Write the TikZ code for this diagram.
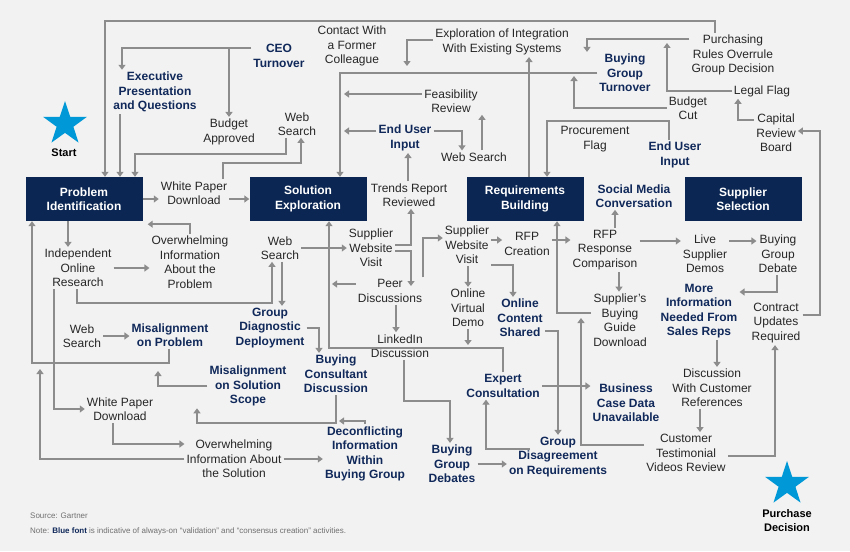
\documentclass[tikz,border=0pt]{standalone}
\usepackage{fontspec}
\setmainfont{Liberation Sans}
\usetikzlibrary{arrows.meta,shapes.geometric}
\definecolor{bgc}{HTML}{F2F2F2}
\definecolor{navy}{HTML}{0B2652}
\definecolor{bluet}{HTML}{10295A}
\definecolor{arrc}{HTML}{8C8C8C}
\definecolor{starb}{HTML}{0098D6}
\definecolor{srcg}{HTML}{707070}
\tikzset{
  txt/.style={align=center,inner sep=2pt,font=\fontsize{12}{14.5}\selectfont,text=black!85},
  bl/.style={txt,font=\fontsize{12}{14.5}\selectfont\bfseries,text=bluet},
  box/.style={fill=navy,text=white,align=center,minimum width=117pt,minimum height=44pt,inner sep=0pt,font=\fontsize{12}{14.5}\selectfont\bfseries},
  arr/.style={draw=arrc,line width=1.6pt,-{Triangle[width=7pt,length=5pt]}},
  ln/.style={draw=arrc,line width=1.6pt},
  starshape/.style={star,star points=5,star point ratio=2.6,fill=starb,minimum size=46pt,inner sep=0pt}
}
\begin{document}
\begin{tikzpicture}[x=1pt,y=-1pt]
\fill[bgc] (0,0) rectangle (850,551);
\useasboundingbox (0,0) rectangle (850,551);
% boxes
\node[box] (pi) at (84,199) {Problem\\Identification};
\node[box] (se) at (308,199) {Solution\\Exploration};
\node[box] (rb) at (525,199) {Requirements\\Building};
\node[box] (ss) at (743,199) {Supplier\\Selection};
% stars
\node[starshape] (st1) at (65,124) {};
\node[font=\fontsize{11}{13}\selectfont\bfseries] (stt) at (64,153) {Start};
\node[starshape] (st2) at (787,484) {};
\node[align=center,font=\fontsize{11}{14}\selectfont\bfseries] (pdt) at (787,521) {Purchase\\Decision};
% text nodes
\node[txt] (cwc) at (352,46) {Contact With\\a Former\\Colleague};
\node[txt] (eie) at (502,42) {Exploration of Integration\\With Existing Systems};
\node[txt] (pro) at (733,55) {Purchasing\\Rules Overrule\\Group Decision};
\node[bl] (ceo) at (279,56) {CEO\\Turnover};
\node[bl] (epq) at (155,92) {Executive\\Presentation\\and Questions};
\node[txt] (ba) at (229,132) {Budget\\Approved};
\node[txt] (ws1) at (297,124) {Web\\Search};
\node[bl] (bgt) at (625,73) {Buying\\Group\\Turnover};
\node[txt] (fr) at (451,101) {Feasibility\\Review};
\node[bl] (eu1) at (405,138) {End User\\Input};
\node[txt] (ws2) at (474,157) {Web Search};
\node[txt] (bc) at (688,108) {Budget\\Cut};
\node[txt] (lf) at (762,91) {Legal Flag};
\node[txt] (crb) at (776,133) {Capital\\Review\\Board};
\node[txt] (pf) at (595,139) {Procurement\\Flag};
\node[bl] (eu2) at (675,155) {End User\\Input};
\node[txt] (trr) at (409,195) {Trends Report\\Reviewed};
\node[bl] (smc) at (634,196) {Social Media\\Conversation};
\node[txt] (wp1) at (194,193) {White Paper\\Download};
\node[txt] (ior) at (78,268) {Independent\\Online\\Research};
\node[txt] (oip) at (190,262) {Overwhelming\\Information\\About the\\Problem};
\node[txt] (ws3) at (280,248) {Web\\Search};
\node[txt] (swv1) at (371,248) {Supplier\\Website\\Visit};
\node[txt] (swv2) at (467,245) {Supplier\\Website\\Visit};
\node[txt] (rfpc) at (527,244) {RFP\\Creation};
\node[txt] (rfpr) at (605,250) {RFP\\Response\\Comparison};
\node[txt] (lsd) at (705,254) {Live\\Supplier\\Demos};
\node[txt] (bgd) at (778,254) {Buying\\Group\\Debate};
\node[txt] (pd) at (390,291) {Peer\\Discussions};
\node[txt] (ovd) at (468,308) {Online\\Virtual\\Demo};
\node[bl] (ocs) at (520,318) {Online\\Content\\Shared};
\node[txt] (sbg) at (620,320) {Supplier's\\Buying\\Guide\\Download};
\node[bl] (mi) at (699,311) {More\\Information\\Needed From\\Sales Reps};
\node[txt] (cur) at (776,323) {Contract\\Updates\\Required};
\node[txt] (ld) at (400,346) {LinkedIn\\Discussion};
\node[bl] (gdd) at (270,328) {Group\\Diagnostic\\Deployment};
\node[txt] (ws4) at (82,336) {Web\\Search};
\node[bl] (mp) at (170,335) {Misalignment\\on Problem};
\node[bl] (mss) at (248,386) {Misalignment\\on Solution\\Scope};
\node[bl] (bcd) at (336,374) {Buying\\Consultant\\Discussion};
\node[bl] (ec) at (503,386) {Expert\\Consultation};
\node[bl] (bcdu) at (626,403) {Business\\Case Data\\Unavailable};
\node[txt] (dcr) at (712,388) {Discussion\\With Customer\\References};
\node[txt] (wp2) at (120,409) {White Paper\\Download};
\node[txt] (ois) at (234,459) {Overwhelming\\Information About\\the Solution};
\node[bl] (dib) at (365,454) {Deconflicting\\Information\\Within\\Buying Group};
\node[bl] (bgds) at (452,464) {Buying\\Group\\Debates};
\node[bl] (gdr) at (558,457) {Group\\Disagreement\\on Requirements};
\node[txt] (ctv) at (686,453) {Customer\\Testimonial\\Videos Review};
% footnote
\node[anchor=west,inner sep=0pt,font=\fontsize{8}{10}\selectfont,text=srcg] (src) at (30,516) {Source: Gartner};
\node[anchor=west,inner sep=0pt,font=\fontsize{8}{10}\selectfont,text=srcg] (note) at (30,531) {Note: {\bfseries\color{bluet}Blue font} is indicative of always-on “validation” and “consensus creation” activities.};
% connectors
\draw[arr] ([xshift=-18]pro.north) |- (105,21) -- (105,0 |- pi.north);
\draw[arr] ([yshift=8]ceo.west) -| (122,0 |- epq.north);
\draw[arr] (229,48) -- (ba.north);
\draw[arr] (120,0 |- epq.south) -- (120,0 |- pi.north);
\draw[arr] ([xshift=-11]ws1.south) |- (135,154) -- (135,0 |- pi.north);
\draw[arr] ([xshift=29]wp1.north) |- (301,163) -- ([xshift=4]ws1.south);
\draw[arr] (pi.east) -- (pi.east -| wp1.west);
\draw[arr] (wp1.east |- se) -- (se.west);
\draw[arr] (oip.north) |- ([xshift=5,yshift=-3]pi.south east);
\draw[arr] (68,0 |- pi.south) -- (68,0 |- ior.north);
\draw[arr] (ior.east) -- (ior.east -| oip.west);
\draw[arr] (77,0 |- ior.south) |- (272,303) -- (272,0 |- ws3.south);
\draw[arr] (282,0 |- ws3.south) -- (282,0 |- gdd.north);
\draw[arr] (ws3.east) -- (ws3.east -| swv1.west);
\draw[arr] (169,0 |- mp.south) |- (32,363) -- (32,0 |- pi.south);
\draw[arr] (ois.west) -| (40,369);
\draw[arr] (54,0 |- ior.south) |- (wp2.west);
\draw[arr] (113,0 |- wp2.south) |- (ois.west |- 0,444);
\draw[arr] (ois.east) -- (ois.east -| dib.west);
\draw[arr] (dib.north) |- (339,421);
\draw[arr] (bcd.south) |- (197,423) -- (197,0 |- mss.south);
\draw[arr] (mss.west) -| (158,371);
\draw[arr] (ws4.east) -- (ws4.east -| mp.west);
\draw[arr] (gdd.east) -| (319,0 |- bcd.north);
\draw[arr] ([yshift=3]swv1.east) -| (411,0 |- trr.south);
\draw[arr] ([yshift=-3]swv1.east) -| (411,286);
\draw[arr] (423,0 |- pd.north) |- ([yshift=7]swv2.west);
\draw[arr] ([yshift=7]pd.west) -- (332,284);
\draw[arr] (ec.north) |- (329,348) -- (329,0 |- se.south);
\draw[arr] (396,0 |- pd.south) -- (396,0 |- ld.north);
\draw[arr] (404,0 |- ld.south) |- (450,401) -- (450,0 |- bgds.north);
\draw[arr] (bgds.east) -- (bgds.east -| gdr.west);
\draw[arr] ([xshift=-28,yshift=-14]gdr.north) -| (486,0 |- ec.south);
\draw[arr] (ec.east) -- (ec.east -| bcdu.west);
\draw[arr] ([yshift=-13]ocs.east) -| (558,0 |- gdr.north);
\draw[arr] ([yshift=-20]swv2.east) -| (513,0 |- ocs.north);
\draw[arr] (468,0 |- swv2.south) -- (468,0 |- ovd.north);
\draw[arr] (468,0 |- ovd.south) -- (468,345);
\draw[arr] (swv2.east |- 0,240) -- (rfpc.west |- 0,240);
\draw[arr] (rfpc.east |- 0,240) -- (rfpr.west |- 0,240);
\draw[arr] (sbg.west |- 0,313) -| (557,0 |- rb.south);
\draw[arr] (ctv.west |- 0,445) -| (581,318);
\draw[arr] (615,0 |- rfpr.north) -- (615,0 |- smc.south);
\draw[arr] (rfpr.east |- 0,241) -- (lsd.west |- 0,241);
\draw[arr] (lsd.east |- 0,241) -- (bgd.west |- 0,241);
\draw[arr] (619,0 |- rfpr.south) -- (619,0 |- sbg.north);
\draw[arr] (777,0 |- bgd.south) |- (mi.east |- 0,292);
\draw[arr] (717,0 |- mi.south) -- (717,0 |- dcr.north);
\draw[arr] (700,0 |- dcr.south) -- (700,0 |- ctv.north);
\draw[arr] (ctv.east |- 0,456) -| (775,0 |- cur.south);
\draw[arr] (cur.east |- 0,315) -| (820,131) -- (crb.east |- 0,131);
\draw[arr] (crb.west |- 0,120) -| (738,0 |- lf.south);
\draw[arr] (lf.west) -| (667,43);
\draw[arr] (pro.west |- 0,39) -| (587,0 |- bgt.north);
\draw[arr] (bc.west |- 0,108) -| (574,76);
\draw[arr] (bgt.west |- 0,73) -| (340,0 |- se.north);
\draw[arr] (eie.west |- 0,40) -| (407,66);
\draw[arr] (fr.west |- 0,94) -- (344,94);
\draw[arr] (eu1.west |- 0,131) -- (344,131);
\draw[arr] (eu1.east |- 0,131) -| (462,0 |- ws2.north);
\draw[arr] (482,0 |- ws2.north) -- (482,0 |- fr.south);
\draw[arr] (408,0 |- trr.north) -- (408,0 |- eu1.south);
\draw[arr] (529,0 |- rb.north) -- (529,0 |- eie.south);
\draw[arr] (669,0 |- eu2.north) |- (547,121) -- (547,0 |- rb.north);
\end{tikzpicture}
\end{document}
